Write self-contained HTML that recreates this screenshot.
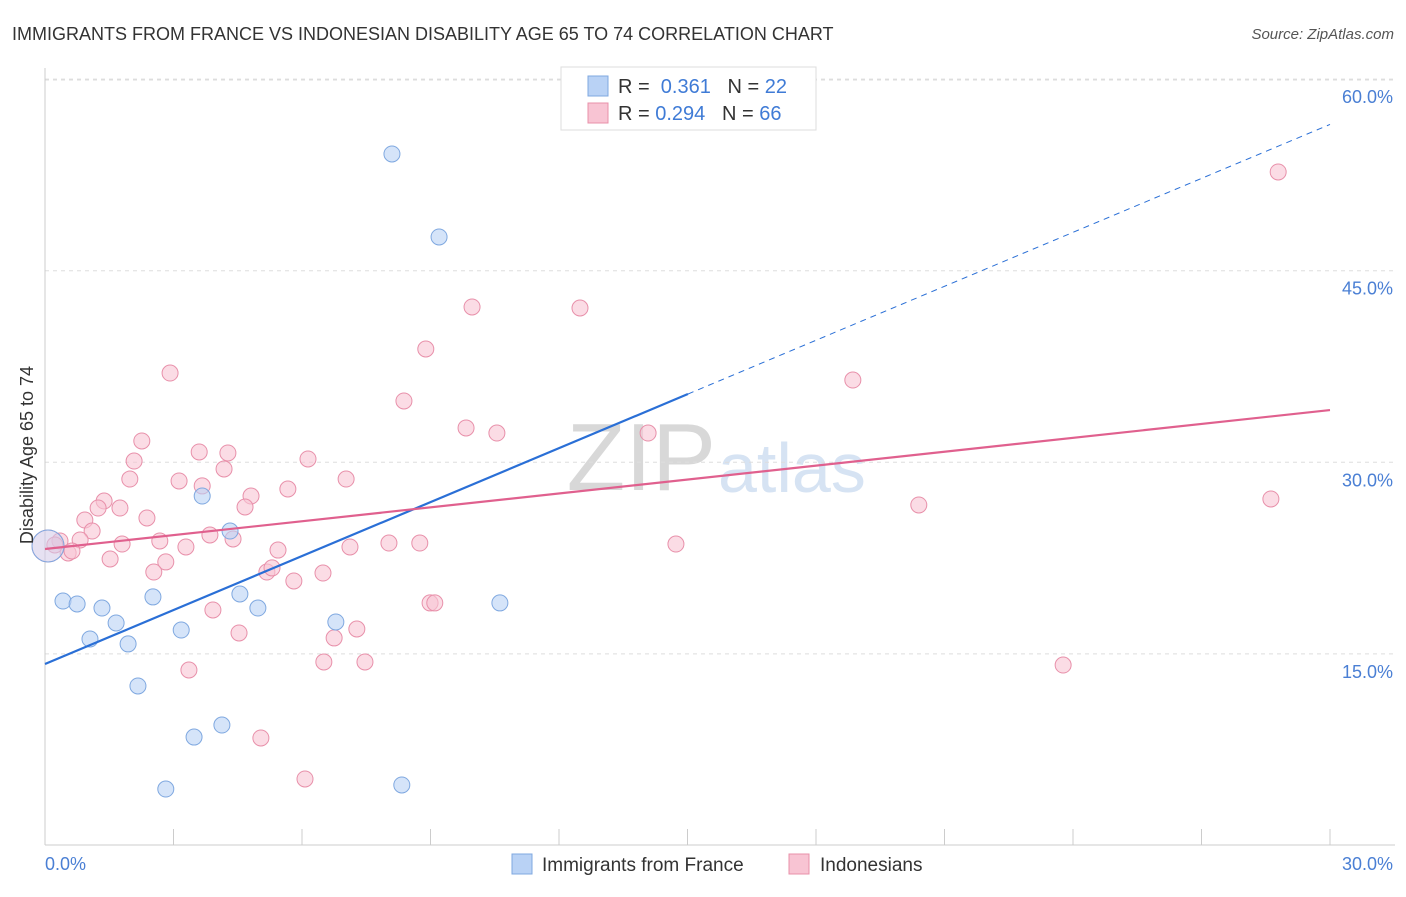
<!DOCTYPE html>
<html><head><meta charset="utf-8"><style>
body{margin:0;background:#fff;font-family:"Liberation Sans",sans-serif}
svg text{font-family:"Liberation Sans",sans-serif}
</style></head><body>
<svg id="chart" width="1406" height="892" viewBox="0 0 1406 892">
<text x="12" y="40" font-size="18" fill="#333">IMMIGRANTS FROM FRANCE VS INDONESIAN DISABILITY AGE 65 TO 74 CORRELATION CHART</text>
<text x="1394" y="39" font-size="15" fill="#555" text-anchor="end" font-style="italic">Source: ZipAtlas.com</text>
<text x="716" y="490" font-size="96" fill="#d8d8d8" text-anchor="end" font-family="Liberation Serif">ZIP</text>
<text x="718" y="492" font-size="70" fill="#d6e3f3">atlas</text>
<g id="grid"></g><g id="axes"></g><g id="marks"></g>
<text x="33" y="455" font-size="18" fill="#333" text-anchor="middle" transform="rotate(-90 33 455)">Disability Age 65 to 74</text>
<g>
<rect x="561" y="67" width="255" height="63" fill="#fff" stroke="#ddd"/>
<rect x="588" y="76" width="20" height="20" fill="#b9d2f5" stroke="#7fa8e0"/>
<text x="618" y="93" font-size="20" fill="#333">R = <tspan fill="#3f7bd6">&#160;0.361</tspan>&#160;&#160;&#160;N = <tspan fill="#3f7bd6">22</tspan></text>
<rect x="588" y="103" width="20" height="20" fill="#f8c4d3" stroke="#e890aa"/>
<text x="618" y="120" font-size="20" fill="#333">R = <tspan fill="#3f7bd6">0.294</tspan>&#160;&#160;&#160;N = <tspan fill="#3f7bd6">66</tspan></text>
</g>
<g>
<rect x="512" y="854" width="20" height="20" fill="#b9d2f5" stroke="#7fa8e0"/>
<text x="542" y="871" font-size="19" fill="#333">Immigrants from France</text>
<rect x="789" y="854" width="20" height="20" fill="#f8c4d3" stroke="#e890aa"/>
<text x="820" y="871" font-size="19" fill="#333">Indonesians</text>
</g>
</svg>
<script>
const yTicks=[15,30,45,60];
const yTickLabels=["15.0%","30.0%","45.0%","60.0%"];
const xTickLabels=["0.0%","30.0%"];
const franceX=[8.10,9.20,4.32,3.67,0.42,0.75,1.33,1.66,1.05,1.94,2.52,3.18,4.55,4.97,6.79,10.62,2.17,3.48,4.13,2.82,8.33,0.07];
const franceY=[54.14,47.64,24.62,27.36,19.14,18.91,18.59,17.42,16.17,15.78,19.46,16.87,19.69,18.59,17.50,18.99,12.49,8.49,9.43,4.42,4.74,23.45];
const indoX=[28.79,9.97,12.49,8.89,2.92,18.86,8.38,2.26,9.83,10.55,14.08,3.60,4.27,6.14,2.08,4.18,1.98,3.13,3.67,7.03,5.67,4.81,1.38,1.24,1.75,4.67,20.40,28.62,0.93,2.38,1.10,0.82,0.35,0.23,0.54,0.63,1.80,2.68,3.29,3.85,4.39,5.44,7.12,8.03,8.75,14.73,1.52,2.82,2.54,5.18,5.30,5.81,6.49,3.92,8.99,9.10,4.53,6.75,7.28,3.36,6.51,7.47,23.77,5.04,6.07,0.07];
const indoY=[52.73,42.16,42.08,38.87,36.99,36.44,34.80,31.67,32.69,32.29,32.29,30.81,30.73,30.26,30.10,29.48,28.69,28.54,28.15,28.69,27.91,27.36,26.97,26.42,26.42,26.50,26.66,27.13,25.48,25.64,24.62,23.92,23.84,23.53,22.90,23.06,23.60,23.84,23.37,24.31,24.00,23.13,23.37,23.68,23.68,23.60,22.43,22.20,21.41,21.41,21.73,20.71,21.33,18.44,18.99,18.99,16.64,16.25,16.95,13.74,14.37,14.37,14.13,8.42,5.21,23.45];
const franceTrend=[14.21,56.45];
const franceSolidEnd=15.01;
const indoTrend=[23.21,34.09];
const NS="http://www.w3.org/2000/svg";
const X=v=>45+v*1285/30, Y=v=>845.5-v*191.6/15;
function mk(tag,attrs,parent){const e=document.createElementNS(NS,tag);for(const k in attrs)e.setAttribute(k,attrs[k]);document.getElementById(parent).appendChild(e);return e;}
yTicks.forEach((t,i)=>{
 const g=mk('line',{x1:45,x2:1395,y1:Y(t),y2:Y(t),stroke:'#ddd','stroke-dasharray':'4,4'},'grid');
 
 
 const l=mk('text',{x:1393,y:Y(t)+24,'font-size':18,fill:'#4a7fd4','text-anchor':'end'},'grid');
 l.textContent=yTickLabels[i];
 
 
});
mk('line',{x1:45,x2:1395,y1:80,y2:80,stroke:'#ddd','stroke-dasharray':'4,4'},'grid');
const ax=mk('line',{x1:45,x2:1395,y1:845,y2:845,stroke:'#ccc'},'axes');


const ay=mk('line',{x1:45,x2:45,y1:68,y2:845,stroke:'#ccc'},'axes');


for(let i=0;i<=10;i++){const t=mk('line',{x1:X(i*3),x2:X(i*3),y1:829,y2:845,stroke:'#ccc'},'axes');
 
 }
[[0,'start',45],[1,'end',1393]].forEach(([i,a,x])=>{const t=mk('text',{x:x,y:870,'font-size':18,fill:'#4a7fd4','text-anchor':a},'axes');t.textContent=xTickLabels[i];
 
 });
function dots(xs,ys,fill,stroke,name){xs.forEach((x,i)=>{const big=i===xs.length-1;const c=mk('circle',{cx:X(x),cy:Y(ys[i]),r:big?16:8,fill:fill,'fill-opacity':big?0.35:0.6,stroke:stroke,'stroke-width':1},'marks');
 
 });}
dots(indoX,indoY,'#f8c4d3','#e890aa','indonesian-point');
dots(franceX,franceY,'#b9d2f5','#7fa8e0','france-point');
const slope=(franceTrend[1]-franceTrend[0])/30;
const fl=mk('line',{x1:X(0),y1:Y(franceTrend[0]),x2:X(franceSolidEnd),y2:Y(franceTrend[0]+slope*franceSolidEnd),stroke:'#2a6fd6','stroke-width':2.2},'marks');


const fd=mk('line',{x1:X(franceSolidEnd),y1:Y(franceTrend[0]+slope*franceSolidEnd),x2:X(30),y2:Y(franceTrend[1]),stroke:'#2a6fd6','stroke-width':1,'stroke-dasharray':'6,5'},'marks');


const il=mk('line',{x1:X(0),y1:Y(indoTrend[0]),x2:X(30),y2:Y(indoTrend[1]),stroke:'#e0608e','stroke-width':2.2},'marks');


</script>
</body></html>
